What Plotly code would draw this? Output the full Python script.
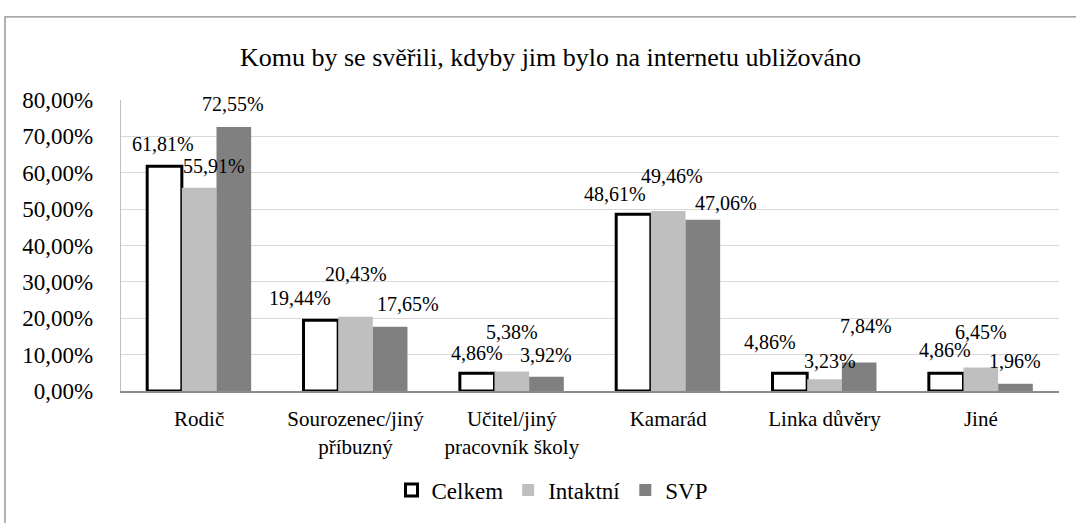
import plotly.graph_objects as go

categories = ["Rodič", "Sourozenec/jiný<br>příbuzný", "Učitel/jiný<br>pracovník školy",
              "Kamarád", "Linka důvěry", "Jiné"]
series_names = ["Celkem", "Intaktní", "SVP"]
celkem = [61.81, 19.44, 4.86, 48.61, 4.86, 4.86]
intaktni = [55.91, 20.43, 5.38, 49.46, 3.23, 6.45]
svp = [72.55, 17.65, 3.92, 47.06, 7.84, 1.96]
y_ticks = [0, 10, 20, 30, 40, 50, 60, 70, 80]
y_tick_labels = ["0,00%", "10,00%", "20,00%", "30,00%", "40,00%",
                 "50,00%", "60,00%", "70,00%", "80,00%"]
title_text = "Komu by se svěřili, kdyby jim bylo na internetu ubližováno"

# style: label nudges (px) mimicking Excel's label placement
label_dx = [[-2, -21, 0, -19, -20, -1],
            [15, 0, 0, 4, 5, 0],
            [-1, 18, 0, 23, 7, 0]]
label_dy = [[22, 22, 20, 20, 31, 23],
            [22, 43, 39, 35, 18, 36],
            [23, 23, 22, 17, 36, 23]]

FONT = "Liberation Serif"
W, H = 1076, 523
ML, MR, MT, MB = 121, 17, 100, 129
bargap = 0.335

all_series = [celkem, intaktni, svp]
styles = [
    dict(color="white", line=dict(color="black", width=3)),
    dict(color="#BFBFBF", line=dict(color="#BFBFBF", width=0)),
    dict(color="#808080", line=dict(color="#808080", width=0)),
]

fig = go.Figure()
for name, vals, st in zip(series_names, all_series, styles):
    fig.add_trace(go.Bar(x=categories, y=vals, name=name, marker=st))

group_w = 1 - bargap
bar_w = group_w / 3
annotations = []
for s, vals in enumerate(all_series):
    off = (s - 1) * bar_w
    for i, v in enumerate(vals):
        annotations.append(dict(
            x=i + off, y=v, xref="x", yref="y",
            text=f"{v:.2f}".replace(".", ",") + "%",
            showarrow=False, xanchor="center", yanchor="middle",
            xshift=label_dx[s][i], yshift=label_dy[s][i],
            font=dict(family=FONT, size=20, color="black"),
        ))

pw = W - ML - MR
ph = H - MT - MB
annotations.append(dict(
    text=title_text, xref="paper", yref="paper",
    x=(550 - ML) / pw, y=1 + (MT - 57) / ph,
    showarrow=False, xanchor="center", yanchor="middle",
    font=dict(family=FONT, size=26, color="black"),
))

fig.update_layout(
    template="none",
    width=W, height=H,
    margin=dict(l=ML, r=MR, t=MT, b=MB),
    paper_bgcolor="white", plot_bgcolor="white",
    barmode="group", bargap=bargap, bargroupgap=0,
    font=dict(family=FONT, color="black"),
    showlegend=True,
    legend=dict(orientation="h", x=(552 - ML) / pw, xanchor="center",
                y=-(494 - (MT + ph)) / ph, yanchor="middle",
                font=dict(family=FONT, size=23, color="black"),
                itemwidth=30, tracegroupgap=0, bgcolor="rgba(0,0,0,0)"),
    annotations=annotations,
    shapes=[dict(type="rect", xref="paper", yref="paper",
                 x0=(5 - ML) / pw, x1=(W + 20 - ML) / pw,
                 y0=-(H + 20 - MT - ph) / ph, y1=1 + (MT - 16) / ph,
                 line=dict(color="#8A8A8A", width=1.3), layer="below")],
)
fig.update_xaxes(showline=True, linecolor="#8C8C8C", linewidth=2,
                 showgrid=False, zeroline=False,
                 tickfont=dict(family=FONT, size=21, color="black"),
                 ticks="", ticklabelstandoff=8, range=[-0.5, 5.5])
fig.update_yaxes(range=[0, 80], tickvals=y_ticks, ticktext=y_tick_labels,
                 showgrid=True, gridcolor="#D9D9D9", gridwidth=1.3,
                 showline=True, linecolor="#BFBFBF", linewidth=1.3,
                 zeroline=False,
                 tickfont=dict(family=FONT, size=23, color="black"),
                 ticks="", ticklabelstandoff=22)

post = """
document.body.style.margin = '0';
var gd = document.getElementById('{plot_id}');
function replot() { Plotly.newPlot(gd, gd.data, gd.layout, {displayModeBar: false}); }
if (document.fonts && document.fonts.load) {
  document.fonts.load('20px "Liberation Serif"').then(replot, replot);
} else { replot(); }
"""
fig.write_html("out.html", config={"displayModeBar": False}, post_script=post)
